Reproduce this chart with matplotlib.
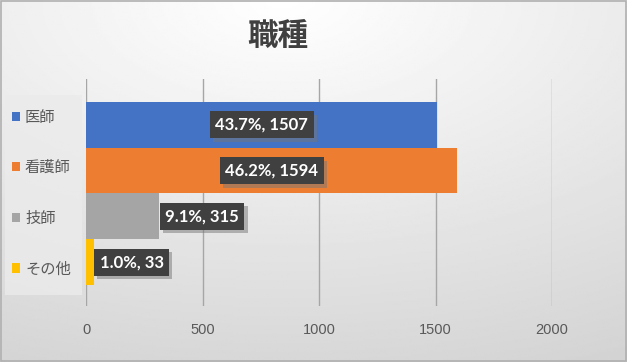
import numpy as np
import matplotlib
matplotlib.use("Agg")
import matplotlib.pyplot as plt
from matplotlib.patches import Patch
from matplotlib import patheffects

plt.rcParams['font.family'] = ['Noto Sans CJK JP', 'DejaVu Sans']

categories = ['医師', '看護師', '技師', 'その他']
counts = [1507, 1594, 315, 33]
percents = [43.7, 46.2, 9.1, 1.0]
colors = ['#4472C4', '#ED7D31', '#A5A5A5', '#FFC000']
xticks = [0, 500, 1000, 1500, 2000]

fig = plt.figure(figsize=(6.27, 3.62), dpi=100)

# background gradient, light at the top centre
bg = fig.add_axes([0, 0, 1, 1], zorder=-10)
yy, xx = np.mgrid[0:1:200j, 0:1:300j]
r = np.sqrt(((xx - 0.45) * 1.0) ** 2 + (yy * 1.1) ** 2)
shade = 1.0 - 0.17 * np.clip(r, 0, 1.2) / 1.2
bg.imshow(shade, cmap='gray', vmin=0, vmax=1, aspect='auto', extent=[0, 1, 1, 0])
bg.set_axis_off()
fig.patches.append(plt.Rectangle((0.001, 0.002), 0.997, 0.995, transform=fig.transFigure,
                                 fill=False, edgecolor='#b0b0b0', linewidth=1.2))
# legend background panel
fig.patches.append(plt.Rectangle((5 / 627, 1 - 295 / 362), 77 / 627, 200 / 362,
                                 transform=fig.transFigure, facecolor='#ebebeb',
                                 edgecolor='none', alpha=0.8))

ax = fig.add_axes([86 / 627, 1 - 306 / 362, (552 - 86) / 627, (306 - 79) / 362])
ax.patch.set_alpha(0)

ypos = np.arange(len(categories))
ax.barh(ypos, counts, height=1.0, color=colors, zorder=3)
ax.set_ylim(3.96, -1.0)
ax.set_xlim(0, 2000)
ax.set_xticks(xticks)
ax.set_yticks([])
ax.grid(axis='x', color='#a6a6a6', linewidth=1.0, zorder=0)
ax.tick_params(axis='x', length=0, pad=12, labelsize=10.5, labelcolor='#595959')
for lab in ax.get_xticklabels():
    lab.set_family(['Liberation Sans', 'DejaVu Sans'])
for s in ax.spines.values():
    s.set_visible(False)

# data labels in dark boxes with a soft shadow
for i, (c, p) in enumerate(zip(counts, percents)):
    txt = f'{p:.1f}%, {c}'
    if c > 1000:
        x, ha = c / 2, 'center'
    else:
        x, ha = c + 25, 'left'
    t = ax.text(x, i, txt, ha=ha, va='center', fontsize=12, fontweight='bold',
                family=['Lato', 'DejaVu Sans'], color='white', zorder=5,
                bbox=dict(boxstyle='square,pad=0.33', facecolor='#404040', edgecolor='none'))
    t.get_bbox_patch().set_path_effects([
        patheffects.SimplePatchShadow(offset=(2.5, -2.5), shadow_rgbFace='#777777', alpha=0.5),
        patheffects.Normal()])

handles = [Patch(facecolor=col, edgecolor='none') for col in colors]
leg = fig.legend(handles, categories, loc='center left', bbox_to_anchor=(12 / 627, 1 - 193 / 362),
                 frameon=False, fontsize=11, labelspacing=2.2,
                 handlelength=0.55, handleheight=0.55, handletextpad=0.3,
                 borderpad=0, borderaxespad=0)
for t in leg.get_texts():
    t.set_color('#595959')

fig.text(278 / 627, 1 - 36 / 362, '職種', ha='center', va='center', fontsize=22,
         fontweight='bold', color='#404040')

fig.savefig('out.png', dpi=100)
